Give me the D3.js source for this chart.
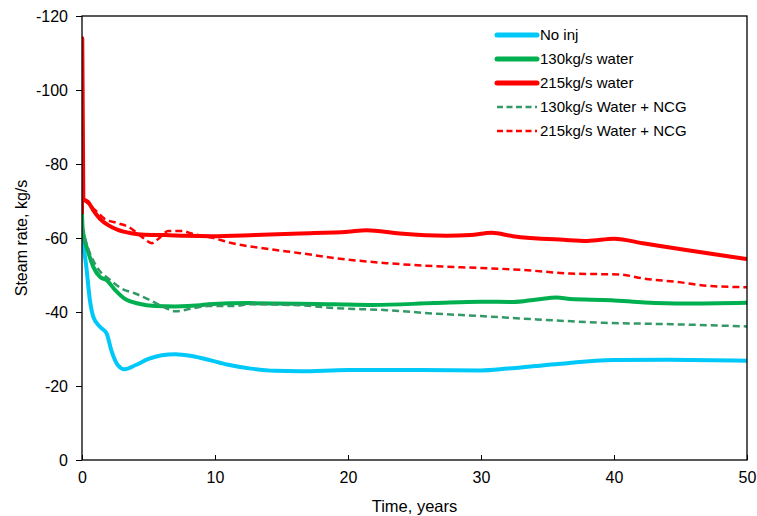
<!DOCTYPE html>
<html>
<head>
<meta charset="utf-8">
<script src="https://cdn.jsdelivr.net/npm/d3@7"></script>
<style>
  body { margin: 0; background: #fff; }
  svg { font-family: "Liberation Sans", Arial, sans-serif; }
  .tick text { font-size: 16px; fill: #000; }
</style>
</head>
<body>
<div id="chart"></div>
<script>
// tempo em anos, vazao de vapor em kg/s (negativo = producao)
var noInj = [[0,-60],[0.3,-53],[0.6,-43],[0.85,-38.7],[1.35,-36],[1.85,-34.2],[2.2,-29.7],[2.7,-25.6],[3.2,-24.5],
  [4,-25.6],[5,-27.3],[6,-28.3],[7,-28.6],[8.25,-28.1],[9.5,-27.1],[10.9,-25.8],[12.7,-24.7],[14.5,-24.1],[16.4,-24.0],
  [20,-24.3],[25.5,-24.3],[30,-24.2],[32,-24.7],[35.6,-25.9],[40,-27.0],[44,-27.1],[50,-26.8]];
var water130 = [[0,-66.5],[0.05,-62.5],[0.47,-56.2],[0.85,-52.2],[1.35,-49.5],[1.85,-48.6],[2.5,-45.9],[3.2,-43.6],
  [4.2,-42.3],[5.5,-41.6],[7,-41.5],[8.9,-41.8],[9.5,-42.1],[12.6,-42.4],[18.9,-42.1],[21.9,-41.9],[26.4,-42.4],
  [30,-42.8],[32.4,-42.7],[34.2,-43.4],[35.7,-43.9],[36.7,-43.5],[39.8,-43.2],[42.3,-42.6],[45.3,-42.3],[50,-42.5]];
var water215 = [[0,-66.5],[0.02,-114],[0.1,-70.6],[0.47,-69.7],[0.85,-67.5],[1.35,-65.2],[2,-63.4],[2.7,-62.2],
  [3.7,-61.3],[4.7,-60.9],[6.25,-60.8],[7.75,-60.6],[9.75,-60.5],[13,-60.8],[16.4,-61.2],[20,-61.7],[21.4,-62.1],
  [23.9,-61.2],[27.4,-60.6],[29.2,-60.8],[30.8,-61.4],[32.4,-60.5],[36.2,-59.5],[38,-59.2],[40,-59.8],[42.3,-58.5],
  [45.3,-56.8],[50,-54.3]];
var ncg130 = [[0,-63],[0.47,-57.1],[1.2,-51.7],[2,-49.0],[3,-46.3],[4,-45.0],[5,-43.4],[6,-41.6],[7,-40.2],[8.25,-40.9],
  [9.5,-41.6],[11.4,-41.6],[12.6,-42.1],[16.4,-41.8],[18.9,-41.1],[22.9,-40.5],[26.4,-39.6],[30,-38.9],[34.2,-38.0],
  [39.2,-37.1],[44.3,-36.7],[50,-36.1]];
var ncg215 = [[0.1,-70.2],[0.47,-69.3],[1,-67.5],[1.7,-65.2],[2.7,-64.0],[3.5,-63.0],[4.5,-60.3],[5.25,-58.6],[5.75,-59.8],
  [6.5,-61.9],[7.5,-61.9],[8.25,-61.2],[9.75,-60.1],[11.4,-58.5],[13.9,-57.1],[16.4,-55.9],[19.4,-54.4],[22.9,-53.2],
  [26.4,-52.4],[30,-51.9],[33,-51.4],[36.7,-50.4],[40.5,-50.1],[42.3,-49.0],[44.8,-48.1],[47.3,-47.0],[50,-46.7]];

var seriesNames = ["No inj", "130kg/s water", "215kg/s water", "130kg/s Water + NCG", "215kg/s Water + NCG"];
var xTicks = [0, 10, 20, 30, 40, 50];
var yTicks = [0, -20, -40, -60, -80, -100, -120];

var series = [
  {name: seriesNames[0], values: noInj, color: "#00C8F8", width: 4, dash: null},
  {name: seriesNames[1], values: water130, color: "#00B050", width: 4, dash: null},
  {name: seriesNames[2], values: water215, color: "#FF0000", width: 4, dash: null},
  {name: seriesNames[3], values: ncg130, color: "#339966", width: 2.5, dash: "7,4"},
  {name: seriesNames[4], values: ncg215, color: "#FF0000", width: 2.5, dash: "7,4"}
];

var W = 757, H = 516;
var margin = {left: 82, top: 16, right: 10, bottom: 56};
var w = W - margin.left - margin.right, h = H - margin.top - margin.bottom;

var svg = d3.select("#chart").append("svg").attr("width", W).attr("height", H);
var g = svg.append("g").attr("transform", "translate(" + margin.left + "," + margin.top + ")");

var x = d3.scaleLinear().domain([0, 50]).range([0, w]);
var y = d3.scaleLinear().domain([0, -120]).range([h, 0]);

g.append("defs").append("clipPath").attr("id", "clip")
  .append("rect").attr("width", w).attr("height", h);

// linhas
var line = d3.line()
  .x(function(d){ return x(d[0]); })
  .y(function(d){ return y(d[1]); })
  .curve(d3.curveMonotoneX);

g.append("g").attr("clip-path", "url(#clip)")
  .selectAll("path").data(series).enter()
  .append("path")
  .attr("d", function(d){ return line(d.values); })
  .attr("fill", "none")
  .attr("stroke", function(d){ return d.color; })
  .attr("stroke-width", function(d){ return d.width; })
  .attr("stroke-dasharray", function(d){ return d.dash; })
  .attr("stroke-linejoin", "round");

// eixos (hifen comum no sinal, como no original)
var yAxis = g.append("g")
  .call(d3.axisLeft(y).tickValues(yTicks).tickSize(6).tickPadding(8).tickFormat(function(d){ return String(d); }));
yAxis.select(".domain").remove();
yAxis.selectAll(".tick line").attr("stroke", "#000");

var xAxis = g.append("g").attr("transform", "translate(0," + h + ")")
  .call(d3.axisBottom(x).tickValues(xTicks).tickSize(-5).tickPadding(12));
xAxis.select(".domain").remove();
xAxis.selectAll(".tick line").attr("stroke", "#000");

g.append("rect").attr("width", w).attr("height", h)
  .attr("fill", "none").attr("stroke", "#000").attr("stroke-width", 1.3);

// titulos
svg.append("text").attr("x", margin.left + w / 2).attr("y", H - 4)
  .attr("text-anchor", "middle").style("font-size", "16.5px").text("Time, years");
svg.append("text")
  .attr("transform", "translate(27," + (margin.top + h / 2) + ") rotate(-90)")
  .attr("text-anchor", "middle").style("font-size", "16px").text("Steam rate, kg/s");

// legenda
var legend = g.append("g").attr("transform", "translate(415,19)");
var items = legend.selectAll(".leg").data(series).enter()
  .append("g").attr("transform", function(d, i){ return "translate(0," + (i * 24) + ")"; });
items.append("line").attr("x1", 0).attr("x2", 40)
  .attr("stroke", function(d){ return d.color; })
  .attr("stroke-width", function(d){ return d.dash ? d.width : 5; })
  .attr("stroke-linecap", function(d){ return d.dash ? "butt" : "round"; })
  .attr("stroke-dasharray", function(d){ return d.dash ? "6,3.5" : null; });
items.append("text").attr("x", 43).attr("dy", "0.35em")
  .style("font-size", "15px").text(function(d){ return d.name; });
</script>
</body>
</html>
